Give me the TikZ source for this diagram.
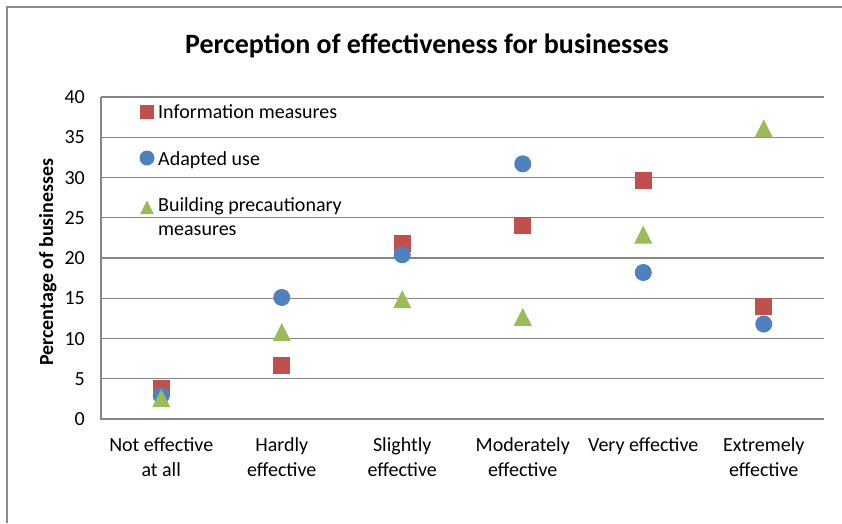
\documentclass[tikz,border=0pt]{standalone}
\usepackage{fontspec}
\setmainfont{Carlito}
\usepackage{tikz}
\usetikzlibrary{shapes.geometric}
\definecolor{rojo}{RGB}{192, 80, 77}
\definecolor{azul}{RGB}{79, 129, 189}
\definecolor{verde}{RGB}{155, 187, 89}
\definecolor{rejilla}{RGB}{134, 134, 134}
\definecolor{marco}{RGB}{140, 140, 140}
\tikzset{
    info/.style={rectangle, fill=rojo, inner sep=0pt, minimum size=17pt},
    adap/.style={circle, fill=azul, inner sep=0pt, minimum size=17pt},
    build/.style={regular polygon, regular polygon sides=3, fill=verde, inner sep=0pt, minimum size=20.8pt, yshift=-3pt, yscale=1.15},
    gline/.style={draw=rejilla, line width=1.3pt},
    tick/.style={anchor=base east, inner sep=0pt, font=\fontsize{20}{24}\selectfont},
    cat/.style={anchor=north, align=center, inner sep=0pt, font=\fontsize{20}{25}\selectfont},
    leg/.style={inner sep=0pt, align=left, font=\fontsize{20}{24}\selectfont},
}
\begin{document}
\begin{tikzpicture}[x=1pt, y=-1pt]
        \useasboundingbox (0,0) rectangle (842,523);
        \fill [white] (0,0) rectangle (842,523);
        \draw [marco, line width=2pt] (7,523) -- (7,7) -- (842,7);

        \node [anchor=base, inner sep=0pt, font=\bfseries\fontsize{28}{34}\selectfont] (titulo) at (427,53) {Perception of effectiveness for businesses};
        \node [anchor=base, rotate=90, inner sep=0pt, font=\bfseries\fontsize{20}{24}\selectfont] (ylab) at (53,262) {Percentage of businesses};

        \begin{scope}[shift={(101,419)}, x=120.5pt, y=8.05pt]
        \draw [gline] (0,5) -- (6,5);
        \draw [gline] (0,10) -- (6,10);
        \draw [gline] (0,15) -- (6,15);
        \draw [gline] (0,20) -- (6,20);
        \draw [gline] (0,25) -- (6,25);
        \draw [gline] (0,30) -- (6,30);
        \draw [gline] (0,35) -- (6,35);
        \draw [gline] (0,40) -- (6,40);
        \draw [gline] (0,40) -- (0,0) -- (6,0);

        \node [tick] (y0) at ([xshift=-16pt, yshift=-6.5pt]0,0) {0};
        \node [tick] (y5) at ([xshift=-16pt, yshift=-6.5pt]0,5) {5};
        \node [tick] (y10) at ([xshift=-16pt, yshift=-6.5pt]0,10) {10};
        \node [tick] (y15) at ([xshift=-16pt, yshift=-6.5pt]0,15) {15};
        \node [tick] (y20) at ([xshift=-16pt, yshift=-6.5pt]0,20) {20};
        \node [tick] (y25) at ([xshift=-16pt, yshift=-6.5pt]0,25) {25};
        \node [tick] (y30) at ([xshift=-16pt, yshift=-6.5pt]0,30) {30};
        \node [tick] (y35) at ([xshift=-16pt, yshift=-6.5pt]0,35) {35};
        \node [tick] (y40) at ([xshift=-16pt, yshift=-6.5pt]0,40) {40};

        \node [cat] (c1) at ([yshift=-18pt]0.5,0) {Not effective\\at all};
        \node [cat] (c2) at ([yshift=-18pt]1.5,0) {Hardly\\effective};
        \node [cat] (c3) at ([yshift=-18pt]2.5,0) {Slightly\\effective};
        \node [cat] (c4) at ([yshift=-18pt]3.5,0) {Moderately\\effective};
        \node [cat] (c5) at ([yshift=-18pt]4.5,0) {Very effective};
        \node [cat] (c6) at ([yshift=-18pt]5.5,0) {Extremely\\effective};

        \node [info] (inf1) at (0.5,3.8) {};
        \node [info] (inf2) at (1.5,6.7) {};
        \node [info] (inf3) at (2.5,21.8) {};
        \node [info] (inf4) at (3.5,24.0) {};
        \node [info] (inf5) at (4.5,29.6) {};
        \node [info] (inf6) at (5.5,14.0) {};

        \node [adap] (ad1) at (0.5,2.9) {};
        \node [adap] (ad2) at (1.5,15.1) {};
        \node [adap] (ad3) at (2.5,20.4) {};
        \node [adap] (ad4) at (3.5,31.7) {};
        \node [adap] (ad5) at (4.5,18.2) {};
        \node [adap] (ad6) at (5.5,11.8) {};

        \node [build] (bu1) at (0.5,2.6) {};
        \node [build] (bu2) at (1.5,10.8) {};
        \node [build] (bu3) at (2.5,14.9) {};
        \node [build] (bu4) at (3.5,12.7) {};
        \node [build] (bu5) at (4.5,22.9) {};
        \node [build] (bu6) at (5.5,36.1) {};
        \end{scope}

        \node [info, minimum size=13.5pt] (legInf) at (147,112) {};
        \node [adap, minimum size=15pt] (legAd) at (147,158) {};
        \node [build, minimum size=16pt, yshift=-0.5pt] (legBu) at (147,206) {};
        \node [leg, anchor=base west] (txtInf) at (158,118) {Information measures};
        \node [leg, anchor=base west] (txtAd) at (158,165) {Adapted use};
        \node [leg, anchor=north west] (txtBu) at (158,197) {Building precautionary\\measures};
    \end{tikzpicture}
\end{document}
